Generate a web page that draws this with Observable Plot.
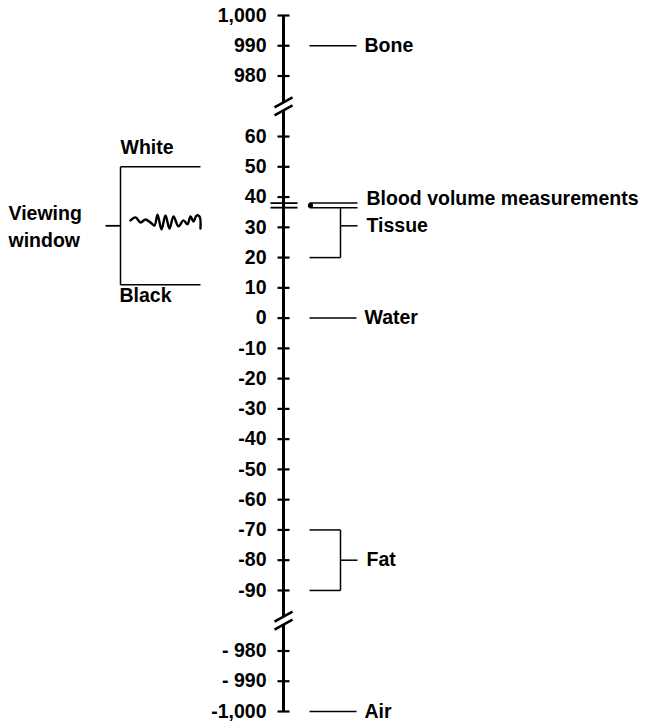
<!DOCTYPE html>
<html><head><meta charset="utf-8">
<script src="https://cdn.jsdelivr.net/npm/d3@7"></script>
<script src="https://cdn.jsdelivr.net/npm/@observablehq/plot@0.6"></script>
<style>body{margin:0;background:#fff} svg{display:block}</style>
</head><body><div id="chart"></div>
<script>
// ---- data ----
const tickValues = [1000, 990, 980, 60, 50, 40, 30, 20, 10, 0, -10, -20, -30, -40, -50, -60, -70, -80, -90, -980, -990, -1000];
const tickLabels = ["1,000", "990", "980", "60", "50", "40", "30", "20", "10", "0", "-10", "-20", "-30", "-40", "-50", "-60", "-70", "-80", "-90", "- 980", "- 990", "-1,000"];
const scaleStops = [1000, 980, 60, -90, -980, -1000];
const stopSlots = [0, 2, 4, 19, 21, 23];
const breakSlots = [3, 20];

const materials = ["Bone", "Water", "Air"];
const materialValues = [990, 0, -1000];

const rangeNames = ["Tissue", "Fat"];
const rangeLow = [20, -90];
const rangeHigh = [36.5, -70];
const rangeLabelAt = [30.5, -80];

const bloodLabel = "Blood volume measurements";
const bloodValues = [38, 36.5];

const windowTop = 50, windowBottom = 11, windowLevel = 30.5;
const waveX = [130, 135, 140, 145, 150, 154, 157, 161, 165, 169, 173, 178, 183, 187, 190, 193, 196, 199, 200];
const waveValues = [32.3, 33.3, 31.6, 32.6, 31.6, 30.6, 34.2, 29.3, 33.9, 29.6, 33.6, 30.3, 32.3, 31.0, 33.6, 31.9, 33.9, 33.6, 29.6];

// ---- layout ----
const W = 648, H = 728;
const yTop = 15, yBottom = 711;
const step = (yBottom - yTop) / 23;
const axisX = 283;
const font = "'Liberation Sans', Arial, sans-serif";

// broken axis: map Hounsfield value to a slot position on the axis
const toSlot = d3.scaleLinear().domain(scaleStops).range(stopSlots);
const px = p => p / step; // pixel offset expressed in slots

const axisSegments = [
  {y1: 0, y2: breakSlots[0] - px(4)},
  {y1: breakSlots[0] + px(4), y2: breakSlots[1] - px(4)},
  {y1: breakSlots[1] + px(4), y2: 23}
];
const slashes = [];
for (const b of breakSlots) for (const c of [-4, 4]) {
  slashes.push({x1: axisX - 9, y1: b + px(c + 5), x2: axisX + 9, y2: b + px(c - 5)});
}

const ticks = tickValues.map((v, i) => ({s: toSlot(v), label: tickLabels[i]}));
const mats = materials.map((m, i) => ({m, s: toSlot(materialValues[i])}));
const rngs = rangeNames.map((n, i) => ({n, lo: toSlot(rangeLow[i]), hi: toSlot(rangeHigh[i]), mid: toSlot(rangeLabelAt[i])}));
const blood = bloodValues.map(v => ({s: toSlot(v)}));
const wave = waveX.map((x, i) => ({x, s: toSlot(waveValues[i])}));

const textStyle = {fontSize: 19.5, fontWeight: "bold", fontFamily: font, fill: "black"};

const chart = Plot.plot({
  width: W, height: H,
  margin: 0,
  x: {domain: [0, W], range: [0, W], axis: null},
  y: {domain: [0, 23], range: [yTop, yBottom], axis: null},
  marks: [
    // axis
    Plot.link(axisSegments, {x1: axisX, x2: axisX, y1: "y1", y2: "y2", stroke: "black", strokeWidth: 3}),
    Plot.link(slashes, {x1: "x1", y1: "y1", x2: "x2", y2: "y2", stroke: "black", strokeWidth: 2.5}),
    Plot.link(ticks, {x1: axisX - 6, x2: axisX + 6, y1: "s", y2: "s", stroke: "black", strokeWidth: 2.2}),
    Plot.text(ticks, {x: 266, y: "s", text: "label", textAnchor: "end", ...textStyle}),
    // materials
    Plot.link(mats, {x1: 309, x2: 356, y1: "s", y2: "s", stroke: "black", strokeWidth: 1.5}),
    Plot.text(mats, {x: 364, y: "s", text: "m", textAnchor: "start", ...textStyle}),
    // blood volume
    Plot.link(blood, {x1: 270, x2: 297, y1: "s", y2: "s", stroke: "black", strokeWidth: 1.8}),
    Plot.link(blood, {x1: 309, x2: 357, y1: "s", y2: "s", stroke: "black", strokeWidth: 1.5}),
    Plot.dot([toSlot(d3.mean(bloodValues))], {x: 310, y: d => d, r: 2.6, fill: "black"}),
    Plot.text([bloodLabel], {x: 366, y: toSlot(39.3), text: d => d, textAnchor: "start", ...textStyle}),
    // brackets
    Plot.link(rngs, {x1: 340, x2: 340, y1: "lo", y2: "hi", stroke: "black", strokeWidth: 1.5}),
    Plot.link(rngs, {x1: 309, x2: 340, y1: "lo", y2: "lo", stroke: "black", strokeWidth: 1.5}),
    Plot.link(rngs.filter(d => d.n === "Fat"), {x1: 309, x2: 340, y1: "hi", y2: "hi", stroke: "black", strokeWidth: 1.5}),
    Plot.link(rngs, {x1: 340, x2: 357, y1: "mid", y2: "mid", stroke: "black", strokeWidth: 1.5}),
    Plot.text(rngs, {x: 366, y: "mid", text: "n", textAnchor: "start", ...textStyle}),
    // viewing window
    Plot.link([0], {x1: 120, x2: 120, y1: toSlot(windowTop), y2: toSlot(windowBottom), stroke: "black", strokeWidth: 1.5}),
    Plot.link([windowTop, windowBottom].map(toSlot), {x1: 120, x2: 200, y1: d => d, y2: d => d, stroke: "black", strokeWidth: 1.5}),
    Plot.link([toSlot(windowLevel)], {x1: 105, x2: 120, y1: d => d, y2: d => d, stroke: "black", strokeWidth: 1.8}),
    Plot.line(wave, {x: "x", y: "s", stroke: "black", strokeWidth: 2.4, curve: "catmull-rom"}),
    Plot.text(["White"], {x: 120, y: toSlot(56.2), text: d => d, textAnchor: "start", ...textStyle}),
    Plot.text(["Black"], {x: 119, y: toSlot(7.4), text: d => d, textAnchor: "start", ...textStyle}),
    Plot.text(["Viewing\nwindow"], {x: 8, y: toSlot(windowLevel + 0.4), text: d => d, textAnchor: "start", lineHeight: 1.4, ...textStyle})
  ]
});
document.getElementById("chart").append(chart);
</script>
</body></html>
